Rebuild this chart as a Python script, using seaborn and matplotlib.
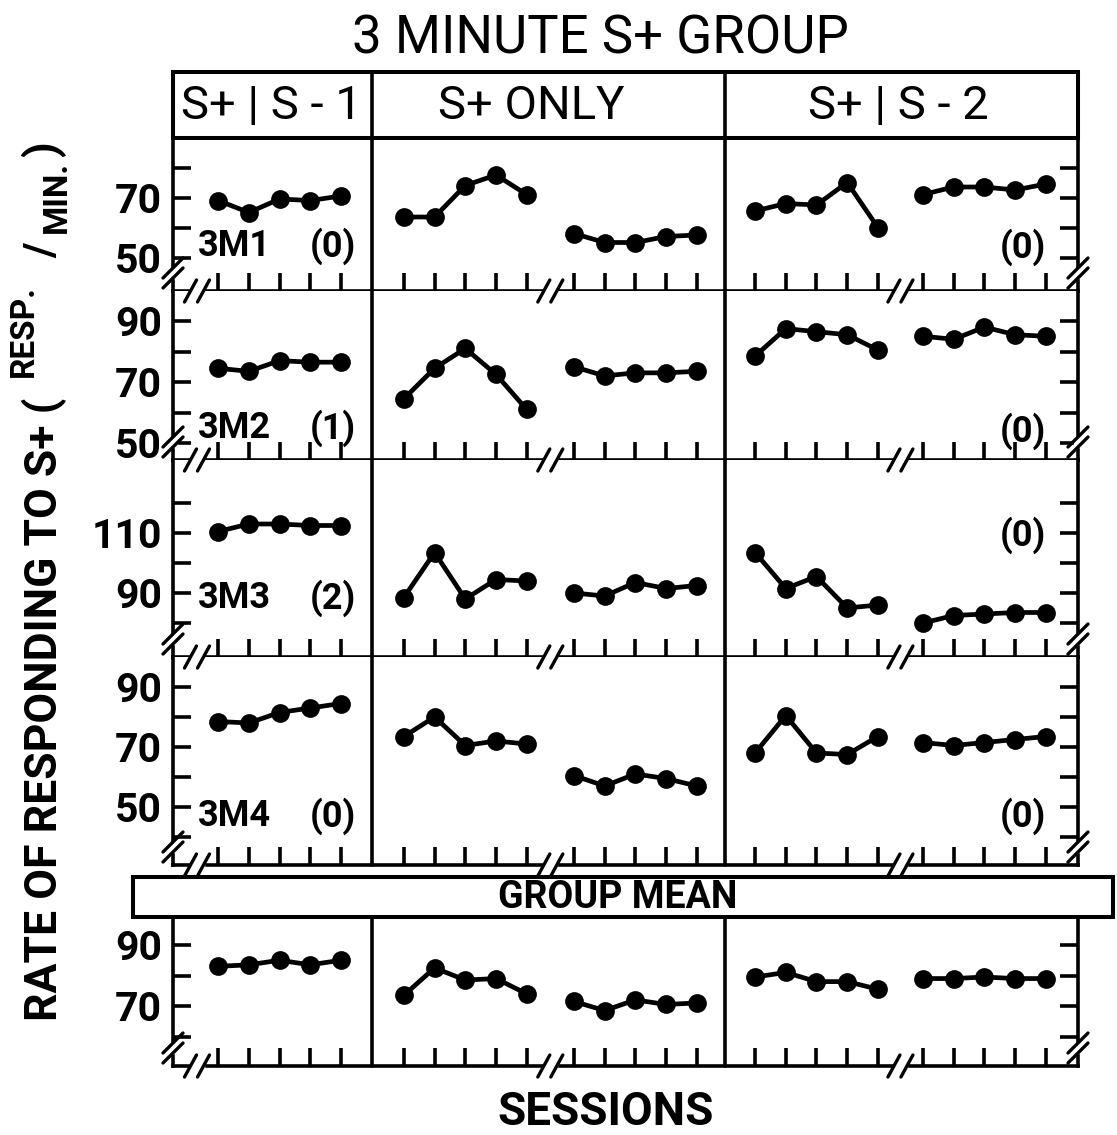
import numpy as np
import pandas as pd
import matplotlib
matplotlib.use("Agg")
import matplotlib.pyplot as plt
import seaborn as sns
from matplotlib.patches import Rectangle

# ------------------------------------------------------------------ data
sessions = [1, 2, 3, 4, 5]
conditions = ["S+ | S - 1", "S+ ONLY", "S+ | S - 2"]
blocks = ["S+|S-1", "S+ ONLY a", "S+ ONLY b", "S+|S-2 a", "S+|S-2 b"]
subjects = ["3M1", "3M2", "3M3", "3M4"]
errors_left = ["(0)", "(1)", "(2)", "(0)"]
errors_right = ["(0)", "(0)", "(0)", "(0)"]

m1_s1 = [69, 65, 69.5, 69, 70.5]
m1_so_a = [63.5, 63.5, 74, 77.5, 71]
m1_so_b = [58, 55, 55, 57, 57.5]
m1_s2_a = [65.5, 68, 67.5, 75, 60]
m1_s2_b = [71, 73.5, 73.5, 72.5, 74.5]

m2_s1 = [74.5, 73.5, 77, 76.5, 76.5]
m2_so_a = [64.5, 74.5, 81, 72.5, 61]
m2_so_b = [75, 72, 73, 73, 73.5]
m2_s2_a = [78.5, 87.5, 86.5, 85.5, 80.5]
m2_s2_b = [85, 84, 88, 85.5, 85]

m3_s1 = [110.5, 113, 113, 112.5, 112.5]
m3_so_a = [88.5, 103.5, 88, 94.5, 94]
m3_so_b = [90, 89, 93.5, 91.5, 92.5]
m3_s2_a = [103.5, 91.5, 95.5, 85, 86]
m3_s2_b = [80, 82.5, 83, 83.5, 83.5]

m4_s1 = [78.5, 78, 81.5, 83, 84.5]
m4_so_a = [73.5, 80, 70.5, 72, 71]
m4_so_b = [60.5, 57, 61, 59.5, 57]
m4_s2_a = [68, 80.5, 68, 67.5, 73.5]
m4_s2_b = [71.5, 70.5, 71.5, 72.5, 73.5]

mean_s1 = [83, 83.5, 85, 83.5, 85]
mean_so_a = [73.5, 82.5, 78.5, 79, 74]
mean_so_b = [71.5, 68.5, 72, 70.5, 71]
mean_s2_a = [79.5, 81, 78, 78, 75.5]
mean_s2_b = [79, 79, 79.5, 79, 79]

rows = [
    [m1_s1, m1_so_a, m1_so_b, m1_s2_a, m1_s2_b],
    [m2_s1, m2_so_a, m2_so_b, m2_s2_a, m2_s2_b],
    [m3_s1, m3_so_a, m3_so_b, m3_s2_a, m3_s2_b],
    [m4_s1, m4_so_a, m4_so_b, m4_s2_a, m4_s2_b],
    [mean_s1, mean_so_a, mean_so_b, mean_s2_a, mean_s2_b],
]
y_ticks = [[50, 60, 70, 80], [50, 60, 70, 80, 90], [80, 90, 100, 110, 120],
           [40, 50, 60, 70, 80, 90], [60, 70, 80, 90]]
y_labeled = [[50, 70], [50, 70, 90], [90, 110], [50, 70, 90], [70, 90]]

# ------------------------------------------------------------------ style
sns.set_theme(style="white")
FAM = ["Roboto", "DejaVu Sans"]
plt.rcParams["font.family"] = FAM
for key in ("text.color", "axes.labelcolor", "xtick.color", "ytick.color"):
    plt.rcParams[key] = "black"

# ------------------------------------------------------------------ layout (pixels)
W, H, DPI = 1117, 1135, 100
L, R = 173, 1078
U = 30.7                                   # px per session slot
block_starts = [1.47, 7.52, 13.06, 18.96, 24.43]
row_px = [(138, 291), (291, 460), (460, 657), (657, 865), (917, 1066)]
calib = [(70, 197.5, 3.0), (70, 382, 3.05), (110, 533, 3.0), (70, 747, 3.0), (90, 945, 3.05)]
SPW = 2.6

fig = plt.figure(figsize=(W / DPI, H / DPI), dpi=DPI)
fig.patch.set_facecolor("white")


def px_rect(l, t, r, b):
    return [l / W, 1 - b / H, (r - l) / W, (b - t) / H]


def xpx(d):
    return L + d * U


all_pos = [s + i for s in block_starts for i in range(len(sessions))]

for r, ((top, bot), (v0, p0, k)) in enumerate(zip(row_px, calib)):
    ax = fig.add_axes(px_rect(L, top, R, bot))
    recs = []
    for b, (start, vals) in enumerate(zip(block_starts, rows[r])):
        for i, v in enumerate(vals):
            recs.append({"pos": start + i, "rate": v, "block": blocks[b]})
    df = pd.DataFrame(recs)
    sns.lineplot(data=df, x="pos", y="rate", units="block", estimator=None,
                 color="black", lw=3.4, marker="o", markersize=13.5,
                 markeredgewidth=0, markeredgecolor="black", legend=False, ax=ax)
    ax.set_xlim(0, (R - L) / U)
    ax.set_ylim(v0 - (bot - p0) / k, v0 + (p0 - top) / k)
    ax.set_facecolor("white")
    ax.set_xlabel("")
    ax.set_ylabel("")
    ax.set_xticks(all_pos)
    ax.set_xticklabels([])
    ax.set_yticks(y_ticks[r])
    ax.set_yticklabels([str(t) if t in y_labeled[r] else "" for t in y_ticks[r]],
                       fontweight="bold", fontsize=29.5, color="black")
    ax.tick_params(axis="x", direction="in", length=13, width=2.6, bottom=True, top=False,
                   color="black")
    ax.tick_params(axis="y", direction="in", length=13, width=2.6, left=True, right=True,
                   labelleft=True, labelright=False, pad=8, color="black")
    ax.spines["top"].set_visible(False)
    for s in ("left", "right", "bottom"):
        ax.spines[s].set_visible(True)
        ax.spines[s].set_color("black")
        ax.spines[s].set_linewidth(SPW)

# ------------------------------------------------------------------ overlay
ov = fig.add_axes([0, 0, 1, 1], zorder=10)
ov.set_xlim(0, W)
ov.set_ylim(H, 0)
ov.axis("off")


def brk_v(x, yc, gap=10):
    ov.add_patch(Rectangle((x - 4, yc - gap / 2), 8, gap, color="white", zorder=1))
    for y in (yc - gap / 2, yc + gap / 2):
        ov.plot([x - 10, x + 10], [y + 10, y - 10], color="black", lw=2.4, zorder=2)


def brk_h(xc, y, gap=13):
    ov.add_patch(Rectangle((xc - gap / 2, y - 4), gap, 8, color="white", zorder=1))
    for x in (xc - gap / 2, xc + gap / 2):
        ov.plot([x - 6, x + 6], [y + 11, y - 11], color="black", lw=2.4, zorder=2)


mid_so = xpx((block_starts[1] + 4 + block_starts[2]) / 2)
mid_s2 = xpx((block_starts[3] + 4 + block_starts[4]) / 2)
for top, bot in row_px:
    brk_v(L, bot - 18)
    brk_h(L + 24, bot)
    brk_h(mid_so, bot)
    brk_h(mid_s2, bot)
    brk_v(R, bot - 18)

# header box + column dividers
ov.add_patch(Rectangle((L, 72), R - L, 138 - 72, fill=False, ec="black", lw=2.9, zorder=3))
div_px = [xpx(6.48), xpx(17.98)]
for dx in div_px:
    ov.plot([dx, dx], [72, row_px[3][1]], color="black", lw=SPW, zorder=3)
    ov.plot([dx, dx], [row_px[4][0], row_px[4][1]], color="black", lw=SPW, zorder=3)

# group mean band
ov.add_patch(Rectangle((133, 877), 1113 - 133, 917 - 877, fc="white", ec="black", lw=2.9, zorder=3))
ov.text(618, 898, "GROUP MEAN", ha="center", va="center", fontsize=27, fontweight="bold", zorder=4)

# title and headers
ov.text(600, 39, "3 MINUTE S+ GROUP", ha="center", va="center", fontsize=38, zorder=4)
head_x = [271, 531, 898]
for cx, txt in zip(head_x, conditions):
    ov.text(cx, 106, txt, ha="center", va="center", fontsize=34, zorder=4)

# subject labels
left_y = [246, 428, 598, 816]
right_y = [247, 431, 535, 816]
for s, el, er, ly, ry in zip(subjects, errors_left, errors_right, left_y, right_y):
    ov.text(198, ly, s, ha="left", va="center", fontsize=26, fontweight="bold", zorder=4)
    ov.text(356, ly, el, ha="right", va="center", fontsize=26, fontweight="bold", zorder=4)
    ov.text(1046, ry, er, ha="right", va="center", fontsize=26, fontweight="bold", zorder=4)

# axis titles
ov.text(606, 1112, "SESSIONS", ha="center", va="center", fontsize=33, fontweight="bold", zorder=4)
ov.text(44, 1021, "RATE OF RESPONDING TO S+ (", rotation=90, ha="center", va="bottom",
        fontsize=32, fontweight="bold", zorder=4)
ov.text(24, 377, "RESP.", rotation=90, ha="center", va="bottom", fontsize=24,
        fontweight="bold", zorder=4)
ov.text(43, 250, "/", rotation=90, ha="center", va="center", fontsize=30,
        fontweight="bold", zorder=4)
ov.text(57, 233, "MIN.", rotation=90, ha="center", va="bottom", fontsize=24,
        fontweight="bold", zorder=4)
ov.text(44, 157, ")", rotation=90, ha="center", va="bottom", fontsize=32,
        fontweight="bold", zorder=4)

fig.savefig("out.png", dpi=DPI, facecolor="white")
